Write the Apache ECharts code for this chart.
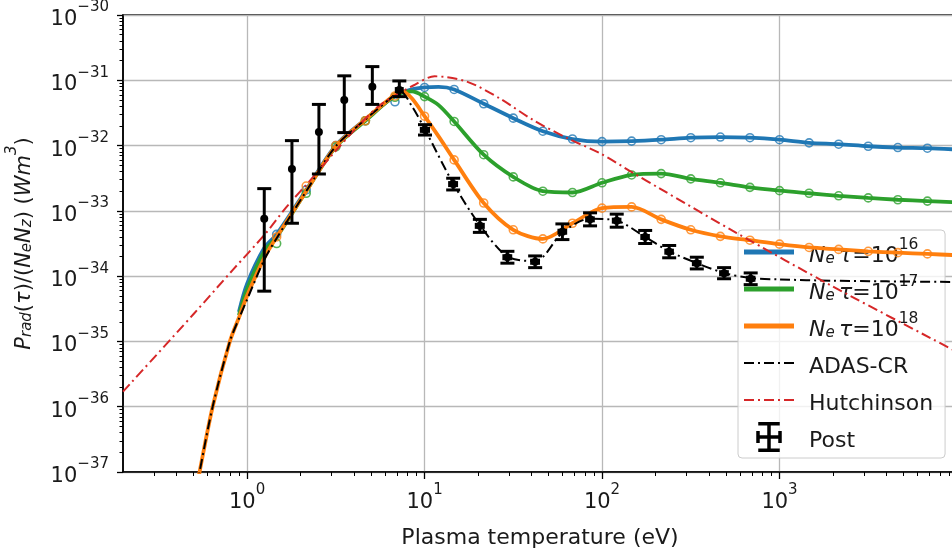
<!DOCTYPE html>
<html><head><meta charset="utf-8">
<script src="https://cdn.jsdelivr.net/npm/echarts@6/dist/echarts.min.js"></script>
<style>html,body{margin:0;padding:0;background:#fff}#c{width:952px;height:553px}</style>
</head><body><div id="c"></div>
<script>
// ---------- data (T in eV, P in W m^3) ----------
const blueT  = [0.9,1.0,1.25,1.468,2.154,3.162,4.642,6.813,8.5,10,12,14.68,21.54,31.62,46.42,68.13,100,146.8,215.4,316.2,464.2,681.3,1000,1468,2154,3162,4642,6813,10000];
const blueP  = [2.82e-35,7.59e-35,2.69e-34,4.37e-34,2.09e-33,1.0e-32,2.51e-32,5.75e-32,7.24e-32,7.76e-32,7.94e-32,7.24e-32,4.37e-32,2.63e-32,1.66e-32,1.26e-32,1.15e-32,1.17e-32,1.23e-32,1.32e-32,1.35e-32,1.32e-32,1.23e-32,1.10e-32,1.05e-32,9.77e-33,9.33e-33,9.12e-33,8.71e-33];
const greenT = [0.9,1.0,1.25,1.468,2.154,3.162,4.642,6.813,8.5,10,12,14.68,21.54,31.62,46.42,68.13,100,146.8,215.4,316.2,464.2,681.3,1000,1468,2154,3162,4642,6813,10000];
const greenP = [2.51e-35,6.31e-35,2.40e-34,3.98e-34,2.00e-33,9.55e-33,2.40e-32,5.75e-32,6.76e-32,5.62e-32,4.17e-32,2.34e-32,7.24e-33,3.31e-33,2.00e-33,1.91e-33,2.69e-33,3.55e-33,3.72e-33,3.09e-33,2.69e-33,2.29e-33,2.04e-33,1.86e-33,1.70e-33,1.58e-33,1.48e-33,1.41e-33,1.35e-33];
const orangeT = [0.52,0.54,0.64,0.80,0.91,1.0,1.25,1.468,2.154,3.162,4.642,6.813,7.5,8.5,10,12,14.68,21.54,31.62,46.42,68.13,100,146.8,215.4,316.2,464.2,681.3,1000,1468,2154,3162,4642,6813,10000];
const orangeP = [5.62e-38,1.0e-37,1.0e-36,1.0e-35,2.51e-35,5.01e-35,1.91e-34,3.98e-34,2.00e-33,9.77e-33,2.51e-32,6.03e-32,6.76e-32,5.25e-32,2.82e-32,1.38e-32,6.03e-33,1.32e-33,5.13e-34,3.72e-34,6.46e-34,1.10e-33,1.15e-33,7.41e-34,5.13e-34,4.07e-34,3.55e-34,3.09e-34,2.75e-34,2.57e-34,2.40e-34,2.29e-34,2.19e-34,2.09e-34];
const adasT = [0.52,0.54,0.64,0.80,0.91,1.0,1.25,1.468,2.154,3.162,4.642,6.813,7.3,8.5,10,14.5,20.5,29.3,42,60,85.6,121,175,239,342,487,688,1000,2000,4000,10000];
const adasP = [5.62e-38,1.0e-37,1.0e-36,1.0e-35,2.40e-35,4.37e-35,1.78e-34,3.80e-34,2.00e-33,9.77e-33,2.51e-32,6.03e-32,6.76e-32,3.98e-32,1.82e-32,2.63e-33,6.03e-34,2.00e-34,1.70e-34,4.68e-34,7.59e-34,7.08e-34,3.98e-34,2.40e-34,1.58e-34,1.12e-34,9.33e-35,8.91e-35,8.51e-35,8.32e-35,8.13e-35];
const hutchT = [0.2,0.5,0.834,1.26,1.67,2.36,3.16,4.3,5.62,8.65,11.4,17.3,26.6,41,63,97.6,150,212,574,2000,10000];
const hutchP = [1.70e-36,2.63e-35,1.26e-34,4.37e-34,1.15e-33,3.31e-33,8.32e-33,2.09e-32,4.17e-32,8.32e-32,1.15e-31,9.55e-32,5.25e-32,2.45e-32,1.32e-32,7.59e-33,3.80e-33,2.19e-33,4.57e-34,6.92e-35,6.92e-36];
// circle markers on the model curves
const markT = [1.468,2.154,3.162,4.642,6.813,10,14.68,21.54,31.62,46.42,68.13,100,146.8,215.4,316.2,464.2,681.3,1000,1468,2154,3162,4642,6813];
const blueMk = [4.37e-34,2.09e-33,1.0e-32,2.40e-32,4.68e-32,7.76e-32,7.24e-32,4.37e-32,2.63e-32,1.66e-32,1.26e-32,1.15e-32,1.17e-32,1.23e-32,1.32e-32,1.35e-32,1.32e-32,1.23e-32,1.10e-32,1.05e-32,9.77e-33,9.33e-33,9.12e-33];
const greenMk = [3.16e-34,1.86e-33,9.55e-33,2.40e-32,5.50e-32,5.62e-32,2.34e-32,7.24e-33,3.31e-33,2.00e-33,1.91e-33,2.69e-33,3.55e-33,3.72e-33,3.09e-33,2.69e-33,2.29e-33,2.04e-33,1.86e-33,1.70e-33,1.58e-33,1.48e-33,1.41e-33];
const orangeMk = [3.98e-34,2.40e-33,1.0e-32,2.40e-32,5.75e-32,2.82e-32,6.03e-33,1.32e-33,5.13e-34,3.72e-34,6.46e-34,1.10e-33,1.15e-33,7.41e-34,5.13e-34,4.07e-34,3.55e-34,3.09e-34,2.75e-34,2.57e-34,2.40e-34,2.29e-34,2.19e-34];
// Post data with error bars
const postT   = [1.25,1.79,2.54,3.53,5.08,7.21,10.06,14.5,20.5,29.3,42,59.8,85.6,121,175,239,342,487,688];
const postP   = [7.59e-34,4.37e-33,1.62e-32,5.01e-32,7.94e-32,7.08e-32,1.74e-32,2.57e-33,5.89e-34,1.95e-34,1.66e-34,4.79e-34,7.41e-34,7.08e-34,3.98e-34,2.37e-34,1.58e-34,1.11e-34,9.12e-35];
const postHi  = [2.19e-33,1.19e-32,4.27e-32,1.17e-31,1.62e-31,9.77e-32,2.09e-32,3.16e-33,7.41e-34,2.40e-34,2.04e-34,6.31e-34,9.33e-34,8.91e-34,5.01e-34,2.95e-34,1.95e-34,1.35e-34,1.12e-34];
const postLo  = [5.89e-35,6.46e-34,3.67e-33,1.58e-32,4.27e-32,5.62e-32,1.45e-32,2.09e-33,4.68e-34,1.58e-34,1.35e-34,3.63e-34,5.89e-34,5.62e-34,3.16e-34,1.91e-34,1.29e-34,9.12e-35,7.41e-35];
const postTerr = [0,0,0,0,0,0.3,0.5,0.7,1.0,1.4,2.0,2.8,4.0,5.6,8.0,11,16,23,32];
// axis ticks (powers of ten)
const xMajorExp = [0,1,2,3];
const yMajorExp = [-37,-36,-35,-34,-33,-32,-31,-30];
const xRange = [0.2, 10000];
const yRange = [1e-37, 1e-30];
// --------------------------------------------------
const L = Math.log10;
const pair = (T, P) => T.map((t, i) => [L(t), L(P[i])]);
const xMinor = [], yMinor = [];
for (let e = -1; e <= 3; e++) for (let m = 2; m <= 9; m++) { const v = L(m) + e; if (v > L(xRange[0]) && v < L(xRange[1])) xMinor.push(v); }
for (let e = -37; e < -30; e++) for (let m = 2; m <= 9; m++) yMinor.push(L(m) + e);

const FONT = 'DejaVu Sans';
const TXT = '#1a1a1a';
const C = {blue:'#1f77b4', green:'#2ca02c', orange:'#ff7f0e', red:'#d62728', black:'#000'};
const supRich = {
  b: {fontFamily: FONT, fontSize: 21, color: TXT, lineHeight: 30, verticalAlign: 'bottom'},
  s: {fontFamily: FONT, fontSize: 15, color: TXT, lineHeight: 17, verticalAlign: 'top'}
};
const dashDot = [10, 4, 2, 4];

const legendRich = {
  sp: {width: 10},
  i: {fontFamily: FONT, fontSize: 22, fontStyle: 'italic', color: TXT, lineHeight: 30, verticalAlign: 'bottom'},
  n: {fontFamily: FONT, fontSize: 22, color: TXT, lineHeight: 30, verticalAlign: 'bottom'},
  sb: {fontFamily: FONT, fontSize: 15, fontStyle: 'italic', color: TXT, lineHeight: 18, verticalAlign: 'bottom'},
  sp2: {fontFamily: FONT, fontSize: 15.5, color: TXT, lineHeight: 17, verticalAlign: 'top'}
};
function legendFmt(name) {
  if (name.indexOf('Ne') === 0) {
    return '{sp|}{i|N}{sb|e}{i|\u2009τ}{n|=10}{sp2|' + name.slice(2) + '}';
  }
  return '{sp|}{n|' + name + '}';
}
const solidIcon = 'path://M0,0h50v5h-50Z';
const dashDotIcon = 'path://M0,0h10v2h-10Z M14,0h2v2h-2Z M20,0h10v2h-10Z M34,0h2v2h-2Z M40,0h10v2h-10Z';
const postIcon = 'path://M11,0h3.5v30h-3.5Z M2,0h21.5v3.5h-21.5Z M2,26.5h21.5v3.5h-21.5Z M0,13.25h25.5v3.5h-25.5Z M0,9h3.5v12h-3.5Z M22,9h3.5v12h-3.5Z';

function lineSeries(name, T, P, color, width, type, z) {
  return {name, type: 'line', data: pair(T, P), showSymbol: false, symbol: 'none', smooth: 0.3,
    clip: true, z, lineStyle: {color, width, type}, itemStyle: {color}, emphasis: {disabled: true}};
}
function markSeries(T, P, color, z) {
  return {type: 'scatter', data: pair(T, P), symbol: 'circle', symbolSize: 8, clip: true, z,
    itemStyle: {color: 'rgba(0,0,0,0)', borderColor: color, borderWidth: 1.6}, emphasis: {disabled: true}, silent: true};
}

const postData = postT.map((t, i) => [L(t), L(postP[i]), L(postLo[i]), L(postHi[i]),
  L(Math.max(t - postTerr[i], 1e-9)), L(t + postTerr[i])]);

const chart = echarts.init(document.getElementById('c'), null, {renderer: 'canvas'});
chart.setOption({
  animation: false,
  backgroundColor: '#fff',
  grid: {left: 123, top: 15, width: 834, height: 457, show: true, borderColor: '#000', borderWidth: 1.5,
    backgroundColor: 'transparent', containLabel: false, outerBoundsMode: 'none'},
  xAxis: [{
    type: 'value', min: L(xRange[0]), max: L(xRange[1]), position: 'bottom',
    axisLine: {show: true, onZero: false, lineStyle: {color: '#000', width: 1.5}},
    axisTick: {show: true, inside: false, length: 7, customValues: xMajorExp, lineStyle: {color: '#000', width: 1.3}},
    axisLabel: {show: true, customValues: xMajorExp, margin: 11, formatter: v => '{b|10}{s|' + Math.round(v) + '}', rich: supRich},
    splitLine: {show: true, lineStyle: {color: '#b8b8b8', width: 1.3}},
    name: 'Plasma temperature (eV)', nameLocation: 'middle', nameGap: 55, nameMoveOverlap: false,
    nameTextStyle: {fontFamily: FONT, fontSize: 22, color: TXT}
  }, {
    type: 'value', min: L(xRange[0]), max: L(xRange[1]), position: 'bottom',
    axisLine: {show: false, onZero: false}, axisLabel: {show: false}, splitLine: {show: false},
    axisTick: {show: true, inside: false, length: 4, customValues: xMinor, lineStyle: {color: '#000', width: 1}}
  }],
  yAxis: [{
    type: 'value', min: L(yRange[0]), max: L(yRange[1]), interval: 1, position: 'left',
    axisLine: {show: true, onZero: false, lineStyle: {color: '#000', width: 1.5}},
    axisTick: {show: true, inside: false, length: 6, lineStyle: {color: '#000', width: 1.3}},
    axisLabel: {show: true, margin: 14, formatter: v => '{b|10}{s|\u2212' + Math.round(-v) + '}', rich: supRich},
    splitLine: {show: true, lineStyle: {color: '#b8b8b8', width: 1.3}},
    name: '{i|P}{sb|rad}{n|(}{i|τ}{n|)/(}{i|N}{sb|e}{i|N}{sb|z}{n|) (}{i|Wm}{sp2|3}{n|)}',
    nameLocation: 'middle', nameGap: 88, nameRotate: 90, nameMoveOverlap: false,
    nameTextStyle: {rich: {
      i: {fontFamily: FONT, fontSize: 21, fontStyle: 'italic', color: TXT, lineHeight: 30, verticalAlign: 'bottom'},
      n: {fontFamily: FONT, fontSize: 21, color: TXT, lineHeight: 30, verticalAlign: 'bottom'},
      sb: {fontFamily: FONT, fontSize: 15, fontStyle: 'italic', color: TXT, lineHeight: 18, verticalAlign: 'bottom'},
      sp2: {fontFamily: FONT, fontSize: 15, fontStyle: 'italic', color: TXT, lineHeight: 17, verticalAlign: 'top'}
    }}
  }, {
    type: 'value', min: L(yRange[0]), max: L(yRange[1]), position: 'left',
    axisLine: {show: false, onZero: false}, axisLabel: {show: false}, splitLine: {show: false},
    axisTick: {show: true, inside: false, length: 3.5, customValues: yMinor, lineStyle: {color: '#000', width: 1}}
  }],
  legend: {
    orient: 'vertical', left: 738, top: 230,
    padding: [7, 12, 6, 6], itemGap: 7, itemWidth: 50, itemHeight: 30,
    backgroundColor: 'rgba(255,255,255,0.8)', borderColor: '#cccccc', borderWidth: 1, borderRadius: 4,
    selectedMode: false, symbolKeepAspect: true,
    formatter: legendFmt,
    textStyle: {rich: legendRich, lineHeight: 30},
    data: [
      {name: 'Ne16', icon: solidIcon}, {name: 'Ne17', icon: solidIcon}, {name: 'Ne18', icon: solidIcon},
      {name: 'ADAS-CR', icon: dashDotIcon}, {name: 'Hutchinson', icon: dashDotIcon},
      {name: 'Post', icon: postIcon}
    ]
  },
  series: [
    lineSeries('Ne16', blueT, blueP, C.blue, 3.8, 'solid', 2),
    markSeries(markT, blueMk, C.blue, 2),
    lineSeries('Ne17', greenT, greenP, C.green, 3.8, 'solid', 3),
    markSeries(markT, greenMk, C.green, 3),
    lineSeries('Ne18', orangeT, orangeP, C.orange, 3.8, 'solid', 4),
    markSeries(markT, orangeMk, C.orange, 4),
    lineSeries('ADAS-CR', adasT, adasP, C.black, 2, dashDot, 5),
    lineSeries('Hutchinson', hutchT, hutchP, C.red, 2, dashDot, 6),
    {
      name: 'Post', type: 'custom', z: 7, clip: true, itemStyle: {color: '#000'},
      encode: {x: 0, y: 1},
      data: postData,
      renderItem: function (params, api) {
        const c = api.coord([api.value(0), api.value(1)]);
        const lo = api.coord([api.value(0), api.value(2)]);
        const hi = api.coord([api.value(0), api.value(3)]);
        const xl = api.coord([api.value(4), api.value(1)]);
        const xr = api.coord([api.value(5), api.value(1)]);
        const cap = 7, st = {stroke: '#000', lineWidth: 3};
        const ch = [
          {type: 'line', shape: {x1: c[0], y1: hi[1], x2: c[0], y2: lo[1]}, style: st},
          {type: 'line', shape: {x1: c[0] - cap, y1: hi[1], x2: c[0] + cap, y2: hi[1]}, style: st},
          {type: 'line', shape: {x1: c[0] - cap, y1: lo[1], x2: c[0] + cap, y2: lo[1]}, style: st},
          {type: 'circle', shape: {cx: c[0], cy: c[1], r: 4}, style: {fill: '#000'}}
        ];
        if (xr[0] - xl[0] > 1) {
          const s2 = {stroke: '#000', lineWidth: 2.5};
          ch.push({type: 'line', shape: {x1: xl[0], y1: c[1], x2: xr[0], y2: c[1]}, style: s2});
          ch.push({type: 'line', shape: {x1: xl[0], y1: c[1] - 3, x2: xl[0], y2: c[1] + 3}, style: s2});
          ch.push({type: 'line', shape: {x1: xr[0], y1: c[1] - 3, x2: xr[0], y2: c[1] + 3}, style: s2});
        }
        return {type: 'group', children: ch};
      }
    }
  ]
});
</script>
</body></html>
